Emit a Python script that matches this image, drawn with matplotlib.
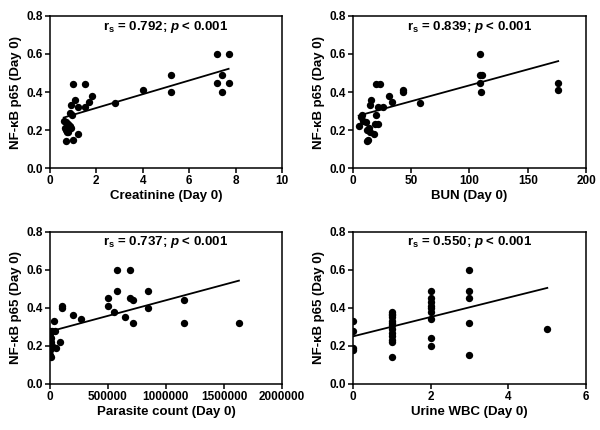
import numpy as np
import matplotlib
matplotlib.use('Agg')
import matplotlib.pyplot as plt

plt.rcParams['font.family'] = ['Liberation Sans', 'DejaVu Sans']
plt.rcParams['font.weight'] = 'bold'
plt.rcParams['mathtext.fontset'] = 'custom'
plt.rcParams['mathtext.rm'] = 'Liberation Sans:bold'
plt.rcParams['mathtext.it'] = 'Liberation Sans:italic:bold'
plt.rcParams['mathtext.bf'] = 'Liberation Sans:bold'

# Creatinine (Day 0)
creat_x = [7.2, 7.7, 7.2, 7.4, 7.4, 7.7, 5.2, 5.2, 4.0, 2.8, 1.0, 1.5, 1.1, 1.8, 1.7,
           1.5, 1.2, 0.9, 0.85, 0.95, 0.6, 0.7, 0.75, 0.8, 0.7, 0.85, 0.75, 0.9, 1.2,
           1.0, 0.7, 0.65, 0.8]
creat_y = [0.60, 0.60, 0.45, 0.49, 0.40, 0.45, 0.49, 0.40, 0.41, 0.34, 0.44, 0.44, 0.36,
           0.38, 0.35, 0.32, 0.32, 0.33, 0.29, 0.28, 0.25, 0.24, 0.22, 0.23, 0.20, 0.22,
           0.19, 0.21, 0.18, 0.15, 0.14, 0.21, 0.19]

# BUN (Day 0)
bun_x = [109, 109, 111, 109, 110, 176, 176, 58, 43, 43, 31, 34, 20, 23, 16, 26, 22, 15,
         20, 8, 5, 9, 12, 15, 19, 22, 18, 13, 12, 7, 11, 14]
bun_y = [0.60, 0.49, 0.49, 0.45, 0.40, 0.45, 0.41, 0.34, 0.41, 0.40, 0.38, 0.35, 0.44,
         0.44, 0.36, 0.32, 0.32, 0.33, 0.28, 0.28, 0.22, 0.25, 0.20, 0.19, 0.23, 0.23,
         0.18, 0.15, 0.14, 0.27, 0.24, 0.21]

# Parasite count (Day 0)
para_x = [577000, 694000, 577000, 500000, 500000, 557000, 646000, 694000, 714000, 714000,
          846000, 846000, 1154000, 1154000, 1629000, 106000, 106000, 203000, 266000,
          37000, 0, 20000, 43000, 86000, 57000, 5000, 10000, 3000, 12000, 8000, 15000,
          2000, 6000, 4000, 14000]
para_y = [0.60, 0.60, 0.49, 0.45, 0.41, 0.38, 0.35, 0.45, 0.44, 0.32, 0.49, 0.40, 0.44,
          0.32, 0.32, 0.40, 0.41, 0.36, 0.34, 0.33, 0.28, 0.28, 0.28, 0.22, 0.19, 0.25,
          0.24, 0.23, 0.22, 0.21, 0.20, 0.19, 0.18, 0.15, 0.14]

# Urine WBC (Day 0)
wbc_x = [0, 0, 0, 0,
         1, 1, 1, 1, 1, 1, 1, 1, 1, 1, 1, 1, 1,
         2, 2, 2, 2, 2, 2, 2, 2, 2,
         3, 3, 3, 3, 3,
         5]
wbc_y = [0.33, 0.28, 0.19, 0.18,
         0.38, 0.37, 0.36, 0.35, 0.33, 0.32, 0.31, 0.29, 0.27, 0.25, 0.23, 0.22, 0.14,
         0.49, 0.45, 0.43, 0.41, 0.40, 0.38, 0.34, 0.24, 0.20,
         0.60, 0.49, 0.45, 0.32, 0.15,
         0.29]

# regression lines (slope, intercept)
fits = [(0.0361, 0.244), (0.001675, 0.2676), (1.64e-7, 0.276), (0.051, 0.25)]
stats = ['0.792', '0.839', '0.737', '0.550']
xlabels = ['Creatinine (Day 0)', 'BUN (Day 0)', 'Parasite count (Day 0)', 'Urine WBC (Day 0)']
xlims = [(0, 10), (0, 200), (0, 2000000), (0, 6)]
xticks = [np.arange(0, 11, 2), np.arange(0, 201, 50),
          np.arange(0, 2000001, 500000), np.arange(0, 7, 2)]
data = [(creat_x, creat_y), (bun_x, bun_y), (para_x, para_y), (wbc_x, wbc_y)]

fig = plt.figure(figsize=(6, 4.3), dpi=100)
positions = [[0.083, 0.609, 0.387, 0.354], [0.588, 0.609, 0.389, 0.354],
             [0.083, 0.107, 0.387, 0.354], [0.588, 0.107, 0.389, 0.354]]

for i in range(4):
    ax = fig.add_axes(positions[i])
    x, y = np.array(data[i][0], float), np.array(data[i][1], float)
    ax.scatter(x, y, s=28, color='black', zorder=3, linewidths=0)
    m, b = fits[i]
    lx = np.array([x.min(), x.max()])
    ax.plot(lx, m * lx + b, color='black', lw=1.3)
    ax.set_xlim(*xlims[i])
    ax.set_ylim(0, 0.8)
    ax.set_xticks(xticks[i])
    ax.set_yticks([0, 0.2, 0.4, 0.6, 0.8])
    ax.set_yticklabels(['0.0', '0.2', '0.4', '0.6', '0.8'])
    if i == 2:
        ax.set_xticklabels([str(int(v)) for v in xticks[i]])
    for s in ax.spines.values():
        s.set_linewidth(1.1)
    ax.tick_params(direction='out', length=3.5, width=1.1, labelsize=8.5, pad=1.5)
    for lab in ax.get_xticklabels() + ax.get_yticklabels():
        lab.set_fontweight('bold')
    ax.set_xlabel(xlabels[i], fontsize=9.5, fontweight='bold', labelpad=2)
    ax.set_ylabel('NF-κB p65 (Day 0)', fontsize=9.5, fontweight='bold', labelpad=3)
    ax.text(0.5, 0.93, r'r$_\mathrm{s}$ = ' + stats[i] + r'; $p$ < 0.001',
            transform=ax.transAxes, ha='center', va='center', fontsize=9.5,
            fontweight='bold')

fig.savefig('out.png', dpi=100)
